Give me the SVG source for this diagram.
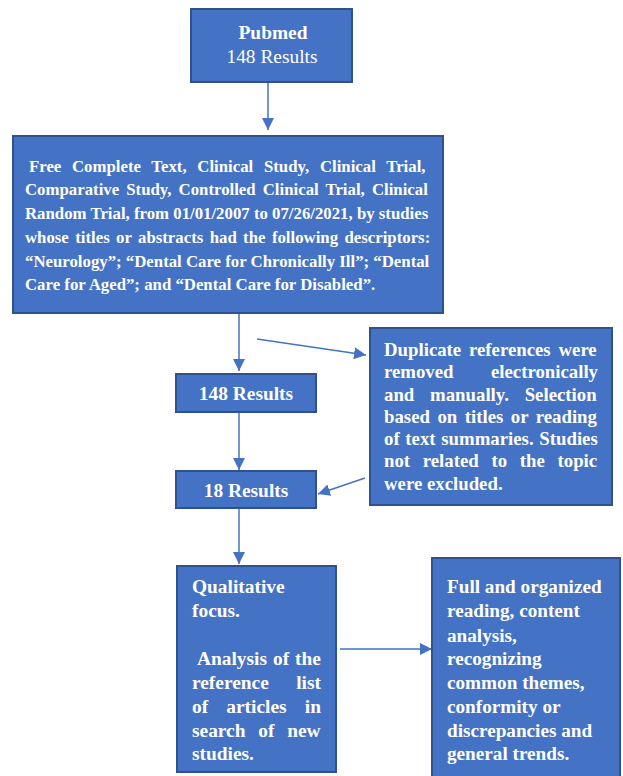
<svg xmlns="http://www.w3.org/2000/svg" width="623" height="776" viewBox="0 0 623 776">
<style>
.box{fill:#4472C4;stroke:#2F528F;stroke-width:2}
text{font-family:"Liberation Serif","Times New Roman",serif;fill:#ffffff;font-weight:bold}
.reg{font-weight:normal}
.t2{font-size:16.8px}
.t3{font-size:18.8px}
.t4{font-size:19.4px}
.t5{font-size:19.2px}
.c{text-anchor:middle;font-size:19.4px}
.e{text-anchor:end}
.conn line{stroke:#4472C4;stroke-width:1.5;fill:none}
</style>
<defs>
<marker id="ah" markerUnits="userSpaceOnUse" markerWidth="12" markerHeight="12" viewBox="0 0 12 12" refX="12" refY="6" orient="auto">
<path d="M0,0 L12,6 L0,12 Z" fill="#4472C4"/>
</marker>
</defs>
<rect width="623" height="776" fill="#ffffff"/>
<g class="conn">
<line x1="268" y1="82" x2="268" y2="130" marker-end="url(#ah)"/>
<line x1="239" y1="313" x2="239" y2="371" marker-end="url(#ah)"/>
<line x1="239" y1="412" x2="239" y2="470" marker-end="url(#ah)"/>
<line x1="239" y1="508" x2="239" y2="564" marker-end="url(#ah)"/>
<line x1="257" y1="339" x2="366" y2="355" marker-end="url(#ah)"/>
<line x1="365" y1="478" x2="318" y2="494" marker-end="url(#ah)"/>
<line x1="340" y1="649" x2="432" y2="649" marker-end="url(#ah)"/>
</g>
<g id="pubmed">
<rect class="box" x="191" y="9" width="161" height="73"/>
<text class="c" x="273" y="39">Pubmed</text>
<text class="c reg" x="272" y="63">148 Results</text>
</g>
<g id="filters">
<rect class="box" x="13" y="136" width="430" height="177"/>
<text class="t2" x="29" y="172" style="word-spacing:6.5px">Free Complete Text, Clinical Study, Clinical Trial,</text>
<text class="t2" x="25" y="195" style="word-spacing:2.9px">Comparative Study, Controlled Clinical Trial, Clinical</text>
<text class="t2" x="25" y="219">Random Trial, from 01/01/2007 to 07/26/2021, by studies</text>
<text class="t2" x="25" y="243" style="word-spacing:2.2px">whose titles or abstracts had the following descriptors:</text>
<text class="t2" x="25" y="267">“Neurology”; “Dental Care for Chronically Ill”; “Dental</text>
<text class="t2" x="25" y="290">Care for Aged”; and “Dental Care for Disabled”.</text>
</g>
<g id="results148">
<rect class="box" x="176" y="374" width="140" height="38"/>
<text class="c" x="246" y="400">148 Results</text>
</g>
<g id="results18">
<rect class="box" x="176" y="471" width="140" height="37"/>
<text class="c" x="246" y="497">18 Results</text>
</g>
<g id="duplicates">
<rect class="box" x="370" y="328" width="242" height="177"/>
<text class="t3" x="384" y="356" style="word-spacing:3.1px">Duplicate references were</text>
<text class="t3" x="384" y="378">removed</text>
<text class="t3 e" x="598" y="378">electronically</text>
<text class="t3" x="384" y="401" style="word-spacing:11.1px">and manually. Selection</text>
<text class="t3" x="384" y="423" style="word-spacing:2.8px">based on titles or reading</text>
<text class="t3" x="384" y="445" style="word-spacing:1px">of text summaries. Studies</text>
<text class="t3" x="384" y="467" style="word-spacing:8px">not related to the topic</text>
<text class="t3" x="384" y="490">were excluded.</text>
</g>
<g id="qualitative">
<rect class="box" x="177" y="566" width="159" height="206"/>
<text class="t4" x="192" y="593">Qualitative</text>
<text class="t4" x="192" y="617">focus.</text>
<text class="t4" x="197" y="665" style="word-spacing:1.1px">Analysis of the</text>
<text class="t4" x="192" y="689">reference</text>
<text class="t4 e" x="321" y="689">list</text>
<text class="t4" x="192" y="713" style="word-spacing:13.3px">of articles in</text>
<text class="t4" x="192" y="737" style="word-spacing:7.9px">search of new</text>
<text class="t4" x="192" y="760">studies.</text>
</g>
<g id="analysis">
<rect class="box" x="432" y="558" width="188" height="222"/>
<text class="t5" x="447" y="593">Full and organized</text>
<text class="t5" x="447" y="617">reading, content</text>
<text class="t5" x="447" y="642">analysis,</text>
<text class="t5" x="447" y="665">recognizing</text>
<text class="t5" x="447" y="689">common themes,</text>
<text class="t5" x="447" y="713">conformity or</text>
<text class="t5" x="447" y="737">discrepancies and</text>
<text class="t5" x="447" y="760">general trends.</text>
</g>
</svg>
